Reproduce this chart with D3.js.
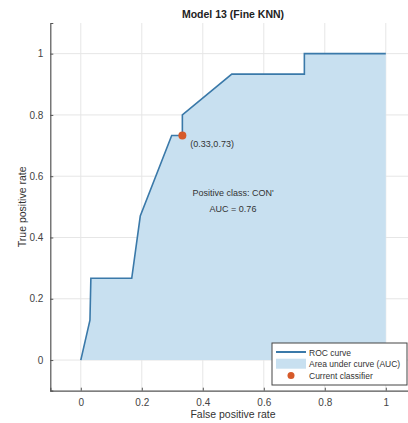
<!DOCTYPE html>
<html>
<head>
<meta charset="utf-8">
<script src="https://cdn.jsdelivr.net/npm/d3@7"></script>
<style>
  body { margin: 0; background: #fff; }
  text { font-family: "Liberation Sans", Arial, sans-serif; }
</style>
</head>
<body>
<div id="chart"></div>
<script>
// ROC curve points (false positive rate, true positive rate)
const fpr = [0, 0.03, 0.033, 0.167, 0.195, 0.298, 0.333, 0.333, 0.495, 0.733, 0.733, 1];
const tpr = [0, 0.13, 0.267, 0.267, 0.47, 0.733, 0.733, 0.8, 0.933, 0.933, 1, 1];
const currentPoint = [0.333, 0.733];
const xTicks = [0, 0.2, 0.4, 0.6, 0.8, 1];
const yTicks = [0, 0.2, 0.4, 0.6, 0.8, 1];
const legendLabels = ["ROC curve", "Area under curve (AUC)", "Current classifier"];

const W = 408, H = 423;
const svg = d3.select('#chart').append('svg')
  .attr('width', W).attr('height', H);

const x = d3.scaleLinear().domain([-0.1, 1.1]).range([50.3, 416.3]);
const y = d3.scaleLinear().domain([-0.1, 1.1]).range([390.7, 23]);

let pts = fpr.map((d, i) => [d, tpr[i]]);

// grid
svg.append('g').selectAll('line').data(xTicks).join('line')
  .attr('x1', d => x(d)).attr('x2', d => x(d))
  .attr('y1', y(1.1)).attr('y2', y(-0.1))
  .attr('stroke', '#e6e6e6').attr('stroke-width', 1);
svg.append('g').selectAll('line').data(yTicks).join('line')
  .attr('y1', d => y(d)).attr('y2', d => y(d))
  .attr('x1', x(-0.1)).attr('x2', x(1.1))
  .attr('stroke', '#e6e6e6').attr('stroke-width', 1);

// area
let area = d3.area().x(d => x(d[0])).y0(y(0)).y1(d => y(d[1]));
svg.append('path').datum(pts)
  .attr('d', area)
  .attr('fill', '#c8e0f0');

// roc line
let line = d3.line().x(d => x(d[0])).y(d => y(d[1]));
svg.append('path').datum(pts)
  .attr('d', line)
  .attr('fill', 'none')
  .attr('stroke', '#3a79a9')
  .attr('stroke-width', 1.6);

// current classifier
svg.append('circle')
  .attr('cx', x(currentPoint[0])).attr('cy', y(currentPoint[1]))
  .attr('r', 4).attr('fill', '#d65a2a');

// axes
let xAxis = d3.axisBottom(x).tickValues(xTicks).tickSize(-3).tickPadding(8)
  .tickFormat(d3.format('~g'));
let gx = svg.append('g').attr('transform', `translate(0,${y(-0.1)})`).call(xAxis);
let yAxis = d3.axisLeft(y).tickValues(yTicks).tickSize(-3).tickPadding(7)
  .tickFormat(d3.format('~g'));
let gy = svg.append('g').attr('transform', `translate(${x(-0.1)},0)`).call(yAxis);
[gx, gy].forEach(g => {
  g.select('.domain').attr('stroke', '#555').attr('stroke-width', 1.2);
  g.selectAll('.tick line').attr('stroke', '#555');
  g.selectAll('.tick text').attr('fill', '#444').style('font-size', '10px');
});

// labels
svg.append('text').attr('x', 233).attr('y', 18).attr('text-anchor', 'middle')
  .style('font-size', '10.5px').style('font-weight', 'bold').attr('fill', '#222')
  .text('Model 13 (Fine KNN)');
svg.append('text').attr('x', 233).attr('y', 418).attr('text-anchor', 'middle')
  .style('font-size', '10.5px').attr('fill', '#333')
  .text('False positive rate');
svg.append('text').attr('transform', `translate(26,${(y(-0.1) + y(1.1)) / 2}) rotate(-90)`)
  .attr('text-anchor', 'middle')
  .style('font-size', '10.5px').attr('fill', '#333')
  .text('True positive rate');

svg.append('text').attr('x', x(currentPoint[0]) + 8).attr('y', y(currentPoint[1]) + 12)
  .style('font-size', '9px').attr('fill', '#333')
  .text(`(${currentPoint[0].toFixed(2)},${currentPoint[1].toFixed(2)})`);
svg.append('text').attr('x', 233).attr('y', 196).attr('text-anchor', 'middle')
  .style('font-size', '9px').attr('fill', '#333')
  .text("Positive class: CON'");
svg.append('text').attr('x', 233).attr('y', 212).attr('text-anchor', 'middle')
  .style('font-size', '9px').attr('fill', '#333')
  .text('AUC = 0.76');

// legend
let lg = svg.append('g').attr('transform', 'translate(272,343)');
lg.append('rect').attr('width', 135).attr('height', 42)
  .attr('fill', '#fff').attr('stroke', '#444').attr('stroke-width', 1);
let rows = lg.selectAll('g').data(legendLabels).join('g')
  .attr('transform', (d, i) => `translate(0,${9 + i * 11.7})`);
rows.each(function(d, i) {
  let r = d3.select(this);
  if (i === 0) {
    r.append('line').attr('x1', 4).attr('x2', 34).attr('stroke', '#3a79a9').attr('stroke-width', 2);
  } else if (i === 1) {
    r.append('rect').attr('x', 4).attr('y', -5).attr('width', 30).attr('height', 10).attr('fill', '#c8e0f0');
  } else {
    r.append('circle').attr('cx', 19).attr('r', 3.5).attr('fill', '#d65a2a');
  }
  r.append('text').attr('x', 37).attr('y', 3.5)
    .style('font-size', '8.5px').attr('fill', '#333').text(d);
});
</script>
</body>
</html>
